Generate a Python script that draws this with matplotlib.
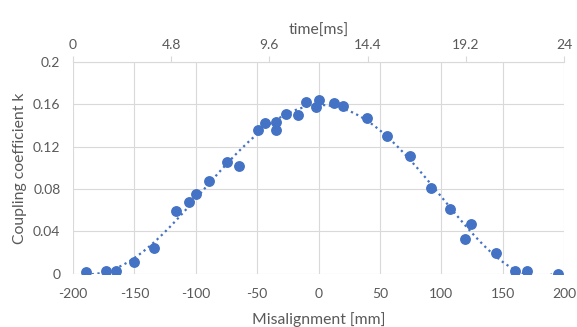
import matplotlib.pyplot as plt
import numpy as np

# measured coupling coefficient vs misalignment
misalign_mm = [-189.5, -173.4, -164.8, -150.1, -134.1, -116.4, -105.6, -99.6, -89.6,
               -74.7, -64.9, -49.5, -43.3, -34.5, -34.5, -26.6, -16.8, -9.8, -2.2,
               0.3, 12.4, 20.2, 39.2, 55.4, 74.6, 91.4, 107.5, 119.7, 124.2, 144.9,
               160.0, 169.8, 195.0]
coupling_k = [0.0014, 0.0029, 0.0024, 0.0108, 0.0246, 0.0589, 0.0674, 0.0749, 0.0877,
              0.106, 0.102, 0.1355, 0.142, 0.1430, 0.1357, 0.1506, 0.1497, 0.162, 0.1575,
              0.1645, 0.1616, 0.158, 0.1468, 0.130, 0.111, 0.081, 0.061, 0.033, 0.047,
              0.0196, 0.0024, 0.0026, 0.0]

x_ticks = [-200, -150, -100, -50, 0, 50, 100, 150, 200]
y_ticks = [0, 0.04, 0.08, 0.12, 0.16, 0.2]
y_ticklabels = ['0', '0.04', '0.08', '0.12', '0.16', '0.2']
time_ticks = [0, 4.8, 9.6, 14.4, 19.2, 24]
time_ticklabels = ['0', '4.8', '9.6', '14.4', '19.2', '24']

plt.rcParams['font.family'] = ['Lato', 'DejaVu Sans']
plt.rcParams['axes.unicode_minus'] = False
text_col = '#595959'
grid_col = '#d9d9d9'
blue = '#4472C4'

fig = plt.figure(figsize=(5.77, 3.27), dpi=100)
ax = fig.add_axes([0.1265, 0.1627, 0.851, 0.6477])

# polynomial trendline (like the spreadsheet one)
coef = np.polyfit(misalign_mm, coupling_k, 6)
xs = np.linspace(min(misalign_mm), max(misalign_mm), 300)
ax.plot(xs, np.polyval(coef, xs), color=blue, lw=1.6, ls=(0, (1, 1.6)), zorder=2)
ax.plot(misalign_mm, coupling_k, 'o', color=blue, ms=6.8, zorder=3)

ax.set_xlim(-200, 200)
ax.set_ylim(0, 0.2)
ax.set_xticks(x_ticks)
ax.set_yticks(y_ticks)
ax.set_yticklabels(y_ticklabels)
ax.grid(True, color=grid_col, lw=0.8)
ax.set_axisbelow(True)
for s in ax.spines.values():
    s.set_visible(False)
ax.tick_params(length=0, labelsize=10, labelcolor=text_col)
ax.tick_params(axis='x', pad=10)
ax.tick_params(axis='y', pad=9)
ax.set_xlabel('Misalignment [mm]', fontsize=11.3, color=text_col, labelpad=9)
ax.set_ylabel('Coupling coefficient k', fontsize=11.3, color=text_col, labelpad=4)

# secondary time axis on top
ax2 = ax.twiny()
ax2.set_xlim(0, 24)
ax2.set_xticks(time_ticks)
ax2.set_xticklabels(time_ticklabels)
for name, s in ax2.spines.items():
    s.set_visible(name == 'top')
ax2.spines['top'].set_color(grid_col)
ax2.tick_params(axis='x', length=4, color=grid_col, labelsize=10, labelcolor=text_col, pad=4)
ax2.set_xlabel('time[ms]', fontsize=11.3, color=text_col, labelpad=3)

fig.savefig('out.png', dpi=100)
